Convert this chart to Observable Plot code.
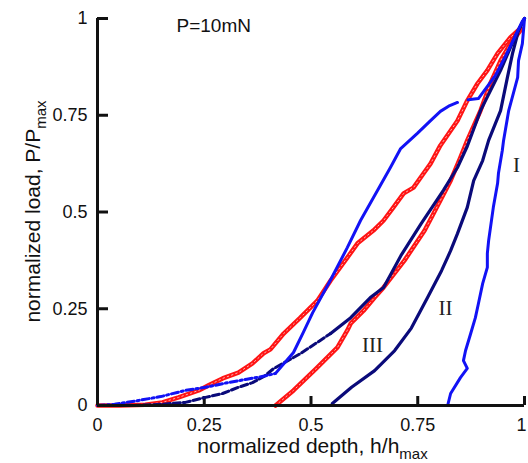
<!DOCTYPE html>
<html><head><meta charset="utf-8">
<script src="https://cdn.jsdelivr.net/npm/d3@7"></script>
<script src="https://cdn.jsdelivr.net/npm/@observablehq/plot@0.6"></script>
<style>body{margin:0;background:#fff}</style>
</head><body><div id="chart"></div>
<script>
const xTicks = [0, 0.25, 0.5, 0.75, 1];
const yTicks = [0, 0.25, 0.5, 0.75, 1];
const tickLabels = ["0", "0.25", "0.5", "0.75", "1"];

// blue loading curve (low dash-dot part, solid part, top part after gap)
const blueLoadLowX = [0, 0.04, 0.096, 0.148, 0.206, 0.253, 0.30, 0.35, 0.391, 0.417];
const blueLoadLowY = [0, 0.003, 0.013, 0.023, 0.039, 0.047, 0.058, 0.068, 0.076, 0.083];
const blueLoadMidX = [0.417, 0.459, 0.482, 0.504, 0.546, 0.585, 0.616, 0.656, 0.686, 0.710, 0.749, 0.780, 0.803, 0.825, 0.843];
const blueLoadMidY = [0.083, 0.137, 0.189, 0.240, 0.325, 0.408, 0.478, 0.556, 0.615, 0.664, 0.703, 0.736, 0.760, 0.775, 0.783];
const blueLoadTopX = [0.868, 0.892, 0.932, 0.956, 0.979, 0.995, 1];
const blueLoadTopY = [0.790, 0.793, 0.853, 0.904, 0.956, 0.993, 1];
// blue unloading curve (I)
const blueUnloadX = [0.820, 0.827, 0.850, 0.866, 0.857, 0.862, 0.874, 0.885, 0.892, 0.902, 0.913, 0.913, 0.916, 0.927, 0.937, 0.939, 0.948, 0.951, 0.963, 0.984, 0.986, 0.995, 1];
const blueUnloadY = [0, 0.031, 0.072, 0.096, 0.116, 0.142, 0.186, 0.227, 0.263, 0.315, 0.357, 0.393, 0.426, 0.512, 0.574, 0.600, 0.659, 0.685, 0.762, 0.848, 0.891, 0.935, 1];
// navy loading curve (dashed low part, solid upper part)
const navyLoadLowX = [0.084, 0.148, 0.206, 0.253, 0.293, 0.330, 0.363, 0.390, 0.412, 0.475, 0.546];
const navyLoadLowY = [0, 0.003, 0.008, 0.021, 0.031, 0.047, 0.059, 0.075, 0.095, 0.134, 0.186];
const navyLoadHighX = [0.546, 0.593, 0.639, 0.670, 0.712, 0.758, 0.810, 0.843, 0.866, 0.897, 0.944, 0.979, 1];
const navyLoadHighY = [0.186, 0.227, 0.279, 0.305, 0.390, 0.470, 0.556, 0.615, 0.670, 0.762, 0.866, 0.956, 1];
// navy unloading curve (II)
const navyUnloadX = [0.550, 0.595, 0.649, 0.696, 0.735, 0.773, 0.806, 0.827, 0.843, 0.866, 0.881, 0.902, 0.916, 0.944, 0.960, 0.972, 0.986, 1];
const navyUnloadY = [0.005, 0.047, 0.090, 0.142, 0.200, 0.279, 0.349, 0.400, 0.444, 0.512, 0.581, 0.633, 0.685, 0.762, 0.848, 0.910, 0.969, 1];
// red loading curve
const redLoadX = [0, 0.05, 0.112, 0.152, 0.190, 0.237, 0.260, 0.293, 0.330, 0.363, 0.389, 0.405, 0.436, 0.475, 0.515, 0.546, 0.585, 0.609, 0.646, 0.670, 0.693, 0.717, 0.740, 0.763, 0.780, 0.803, 0.843, 0.866, 0.890, 0.913, 0.937, 0.967, 0.991];
const redLoadY = [0, 0, 0.002, 0.008, 0.021, 0.039, 0.052, 0.070, 0.085, 0.109, 0.135, 0.145, 0.186, 0.227, 0.271, 0.323, 0.382, 0.419, 0.452, 0.478, 0.512, 0.548, 0.563, 0.599, 0.625, 0.672, 0.736, 0.788, 0.832, 0.866, 0.910, 0.951, 0.975];
// red unloading curve (III)
const redUnloadX = [0.417, 0.459, 0.512, 0.562, 0.585, 0.593, 0.623, 0.649, 0.670, 0.719, 0.766, 0.787, 0.827, 0.850, 0.866, 0.897, 0.920, 0.944, 0.967, 0.991];
const redUnloadY = [0, 0.039, 0.095, 0.150, 0.194, 0.212, 0.245, 0.279, 0.305, 0.375, 0.452, 0.496, 0.581, 0.641, 0.685, 0.762, 0.832, 0.891, 0.935, 0.970];

const romanLabels = ["I", "II", "III"];
const romanX = [0.981, 0.815, 0.644];
const romanY = [0.620, 0.251, 0.155];
const titleText = ["P=10mN"];

function rows(xs, ys, seg) { return xs.map((x, i) => ({x, y: ys[i], seg})); }

const blue = "#1212f5", navy = "#0a0a7a", red = "#ff1414";

const blueDash = rows(blueLoadLowX, blueLoadLowY, "bl0");
const blueSolid = [...rows(blueLoadMidX, blueLoadMidY, "bl1"), ...rows(blueLoadTopX, blueLoadTopY, "bl2"), ...rows(blueUnloadX, blueUnloadY, "bu")];
const navyDash = rows(navyLoadLowX, navyLoadLowY, "nl0");
const navySolid = [...rows(navyLoadHighX, navyLoadHighY, "nl1"), ...rows(navyUnloadX, navyUnloadY, "nu")];
const redAll = [...rows(redLoadX, redLoadY, "rl"), ...rows(redUnloadX, redUnloadY, "ru")];

const lastX = xTicks.length - 1;

const chart = Plot.plot({
  width: 528, height: 463,
  marginLeft: 97, marginRight: 4, marginTop: 18, marginBottom: 58,
  x: {domain: [0, 1]}, y: {domain: [0, 1]},
  style: {fontFamily: "Liberation Sans, Arial, sans-serif", fontSize: "18px", background: "#fff", color: "#111"},
  marks: [
    Plot.axisX(xTicks.slice(0, lastX), {tickSize: 0, tickPadding: 13, tickFormat: (d, i) => tickLabels[i], fontSize: 18, label: null, letterSpacing: 0.5}),
    Plot.axisX(xTicks.slice(lastX), {tickSize: 0, tickPadding: 13, tickFormat: () => tickLabels[lastX], fontSize: 18, label: null, dx: -3}),
    Plot.axisY(yTicks, {tickSize: 0, tickPadding: 10, tickFormat: (d, i) => tickLabels[i], fontSize: 18, label: null, letterSpacing: 0.5}),
    Plot.axisX(xTicks, {tickSize: -9, tickFormat: () => "", strokeWidth: 3, label: null, stroke: "#111"}),
    Plot.axisY(yTicks, {tickSize: -11, tickFormat: () => "", strokeWidth: 3, label: null, stroke: "#111"}),
    Plot.line(redAll, {x: "x", y: "y", z: "seg", stroke: red, strokeWidth: 4.5, strokeLinejoin: "round"}),
    Plot.line(redAll, {x: "x", y: "y", z: "seg", stroke: "#ffb0b0", strokeWidth: 1, strokeDasharray: "1.5,3"}),
    Plot.line(navyDash, {x: "x", y: "y", z: "seg", stroke: navy, strokeWidth: 3, strokeDasharray: "7,3"}),
    Plot.line(navySolid, {x: "x", y: "y", z: "seg", stroke: navy, strokeWidth: 3.2, strokeLinejoin: "round"}),
    Plot.line(blueDash, {x: "x", y: "y", z: "seg", stroke: blue, strokeWidth: 3, strokeDasharray: "7,3,2,3"}),
    Plot.line(blueSolid, {x: "x", y: "y", z: "seg", stroke: blue, strokeWidth: 3, strokeLinejoin: "round"}),
    Plot.ruleX([0], {stroke: "#111", strokeWidth: 3}),
    Plot.ruleY([0], {stroke: "#111", strokeWidth: 3}),
    Plot.text(romanLabels, {x: (d, i) => romanX[i], y: (d, i) => romanY[i], text: d => d, fontFamily: "Liberation Serif, Times New Roman, serif", fontSize: 21, fill: "#222"}),
    Plot.text(titleText, {x: [0.185], y: [0.964], text: d => d, textAnchor: "start", lineAnchor: "bottom", fontSize: 19, letterSpacing: 0.5, fill: "#111"})
  ]
});

const svg = d3.select(chart);
const sx = chart.scale("x"), sy = chart.scale("y");
const xl = svg.append("text")
  .attr("x", sx.apply(0.5) + 2).attr("y", 453)
  .attr("text-anchor", "middle")
  .attr("font-family", "Liberation Sans, Arial, sans-serif")
  .attr("font-size", 21).attr("fill", "#111");
xl.append("tspan").text("normalized depth, h/h");
xl.append("tspan").attr("font-size", 15).attr("dy", 6).text("max");

const yl = svg.append("text")
  .attr("transform", `translate(40,${sy.apply(0.5)}) rotate(-90)`)
  .attr("text-anchor", "middle")
  .attr("font-family", "Liberation Sans, Arial, sans-serif")
  .attr("font-size", 21).attr("fill", "#111");
yl.append("tspan").text("normalized load, P/P");
yl.append("tspan").attr("font-size", 15).attr("dy", 6).text("max");

document.getElementById("chart").appendChild(chart);
</script>
</body></html>
